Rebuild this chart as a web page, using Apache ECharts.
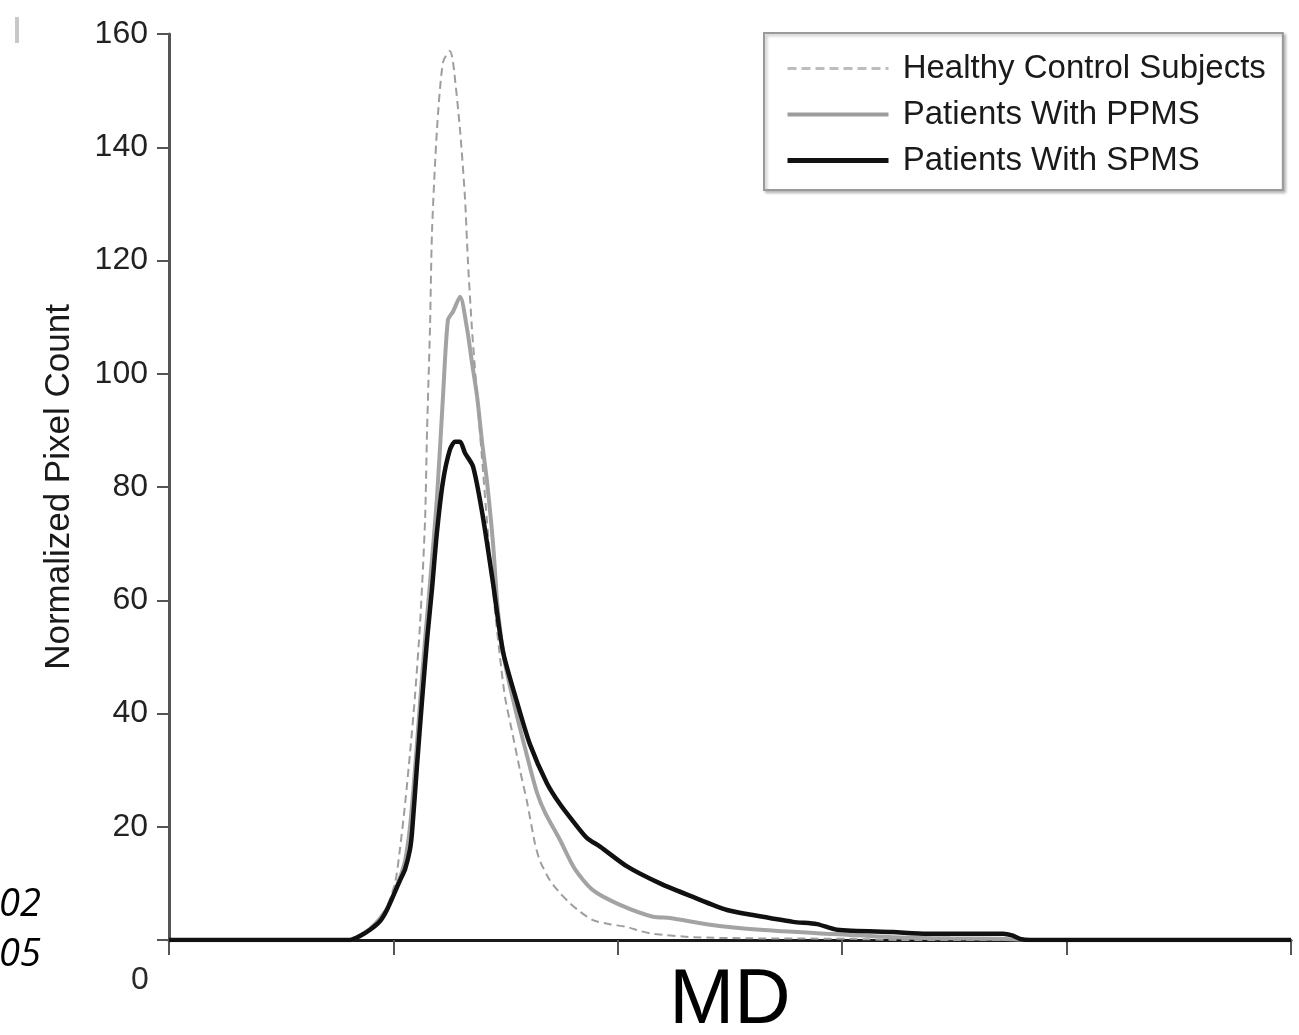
<!DOCTYPE html>
<html>
<head>
<meta charset="utf-8">
<script src="https://cdn.jsdelivr.net/npm/echarts@6/dist/echarts.min.js"></script>
<style>
html,body{margin:0;padding:0;background:#fff;}
#chart{width:1299px;height:1035px;}
</style>
</head>
<body>
<div id="chart"></div>
<script>
// ---- data (x = MD, arbitrary units; y = normalized pixel count) ----
var seriesNames = ['Healthy Control Subjects', 'Patients With PPMS', 'Patients With SPMS'];
var yTicks = [0, 20, 40, 60, 80, 100, 120, 140, 160];
var sideTexts = ['02', '05'];
var xZeroLabel = '0';

var healthy = [
  [0,0],[0.784,0],[0.851,0.8],[0.896,2],[0.94,3.5],[0.963,5],[1.007,10],[1.029,16],
  [1.052,24],[1.074,33],[1.096,43],[1.119,56],[1.141,74],[1.150,90],[1.163,108],
  [1.172,125],[1.194,143],[1.221,155],[1.252,157],[1.266,155],[1.297,143],[1.319,131],
  [1.332,120],[1.350,108],[1.373,96],[1.395,85],[1.417,74],[1.430,68],[1.453,58],
  [1.475,50],[1.497,43],[1.533,36],[1.564,30],[1.595,24.5],[1.631,17],[1.653,14],
  [1.698,10.5],[1.742,8.3],[1.787,6.5],[1.832,5],[1.889,3.5],[1.965,2.8],[2.041,2.3],
  [2.099,1.6],[2.157,1.1],[2.335,0.5],[2.589,0.3],[3.035,0.2],[3.258,0],[5,0]
];
var ppms = [
  [0,0],[0.807,0],[0.851,0.8],[0.896,2],[0.94,3.8],[0.985,6.5],[1.029,11],[1.052,14],
  [1.074,20],[1.096,30],[1.119,42],[1.141,53],[1.163,63],[1.194,78],[1.221,96],
  [1.243,109.5],[1.266,111],[1.297,113.6],[1.328,108],[1.350,102],[1.373,96],[1.395,88],
  [1.417,81],[1.444,70],[1.466,58],[1.497,49],[1.542,41],[1.586,34],[1.640,26],
  [1.676,22.5],[1.742,17.7],[1.809,12.5],[1.889,8.8],[2.010,6.2],[2.157,4.1],[2.233,3.9],
  [2.411,2.7],[2.634,1.8],[2.932,1.1],[3.226,0.5],[3.480,0.3],[3.703,0.2],[3.837,0],[5,0]
];
var spms = [
  [0,0],[0.807,0],[0.851,0.7],[0.896,1.8],[0.94,3.3],[0.971,5.3],[1.007,8.5],[1.029,10.5],
  [1.052,12.5],[1.074,16],[1.083,19],[1.105,30.7],[1.127,42],[1.150,53],[1.172,62],
  [1.194,72],[1.221,81],[1.252,86.6],[1.275,88],[1.297,88],[1.319,86],[1.355,83.6],
  [1.399,74.7],[1.444,63],[1.488,51],[1.551,42],[1.609,34.5],[1.684,27.7],[1.742,24],
  [1.800,21],[1.863,18],[1.921,16.5],[2.041,13],[2.188,10],[2.335,7.6],[2.487,5.3],
  [2.602,4.4],[2.781,3.2],[2.888,2.8],[2.977,1.8],[3.226,1.4],[3.378,1.1],[3.717,1.1],
  [3.757,0.8],[3.792,0.2],[3.837,0],[5,0]
];

var SANS = "'Liberation Sans', Arial, Helvetica, sans-serif";
var COLORS = ['#9e9e9e', '#a3a3a3', '#111111'];

var chart = echarts.init(document.getElementById('chart'), null, {renderer: 'canvas'});
chart.setOption({
  backgroundColor: '#ffffff',
  animation: false,
  color: COLORS,
  grid: {left: 169, right: 8, top: 34, bottom: 95, containLabel: false, outerBoundsMode: 'none'},
  legend: {
    orient: 'vertical',
    left: 764, top: 33,
    padding: [19, 17, 13, 21],
    itemWidth: 101, itemHeight: 14, itemGap: 13,
    backgroundColor: '#ffffff',
    borderColor: '#9a9a9a', borderWidth: 2,
    shadowColor: 'rgba(0,0,0,0.25)', shadowBlur: 3, shadowOffsetX: 2, shadowOffsetY: 2,
    itemStyle: {opacity: 0},
    textStyle: {fontFamily: SANS, fontSize: 33, color: '#1a1a1a'},
    formatter: function (n) { return ' ' + n; },
    data: [
      {name: seriesNames[0], lineStyle: {width: 3, color: '#bdbdbd', type: [9, 5]}},
      {name: seriesNames[1], lineStyle: {width: 4, color: '#9d9d9d'}},
      {name: seriesNames[2], lineStyle: {width: 5, color: '#111111'}}
    ]
  },
  xAxis: {
    type: 'value', min: 0, max: 5, interval: 1,
    name: 'MD', nameLocation: 'middle', nameGap: 22,
    nameTextStyle: {fontFamily: SANS, fontSize: 78, color: '#000'},
    axisLine: {show: true, onZero: false, lineStyle: {color: '#1a1a1a', width: 3}},
    axisTick: {show: true, length: 15, lineStyle: {color: '#555', width: 2}},
    axisLabel: {show: false},
    splitLine: {show: false}
  },
  yAxis: {
    type: 'value', min: yTicks[0], max: yTicks[yTicks.length - 1], interval: 20,
    name: 'Normalized Pixel Count', nameLocation: 'middle', nameGap: 92, nameRotate: 90,
    nameTextStyle: {fontFamily: SANS, fontSize: 35, color: '#1a1a1a'},
    axisLine: {show: true, lineStyle: {color: '#555', width: 3}},
    axisTick: {show: true, length: 12, lineStyle: {color: '#555', width: 2}},
    axisLabel: {
      fontFamily: SANS, fontSize: 32, color: '#222', margin: 21,
      formatter: function (v) { return v === 0 ? '' : String(v); }
    },
    splitLine: {show: false}
  },
  series: [
    {
      name: seriesNames[0], type: 'line', data: healthy, showSymbol: false, symbol: 'none',
      smooth: 0.25, z: 3,
      itemStyle: {color: COLORS[0]},
      lineStyle: {color: COLORS[0], width: 2, type: [8, 5]}
    },
    {
      name: seriesNames[1], type: 'line', data: ppms, showSymbol: false, symbol: 'none',
      smooth: 0.25, z: 2,
      itemStyle: {color: COLORS[1]},
      lineStyle: {color: COLORS[1], width: 4}
    },
    {
      name: seriesNames[2], type: 'line', data: spms, showSymbol: false, symbol: 'none',
      smooth: 0.25, z: 4,
      itemStyle: {color: COLORS[2]},
      lineStyle: {color: COLORS[2], width: 4.5}
    }
  ],
  graphic: [
    {type: 'rect', left: 15, top: 17, shape: {width: 4, height: 26}, style: {fill: '#c8c8c8'}},
    {type: 'text', left: -1, top: 886, style: {text: sideTexts[0], font: "italic 38px 'Open Sans', sans-serif", fill: '#000'}},
    {type: 'text', left: -1, top: 936, style: {text: sideTexts[1], font: "italic 38px 'Open Sans', sans-serif", fill: '#000'}},
    {type: 'text', left: 131, top: 964, style: {text: xZeroLabel, font: "32px 'Liberation Sans', sans-serif", fill: '#2a2a2a'}}
  ]
});
</script>
</body>
</html>
